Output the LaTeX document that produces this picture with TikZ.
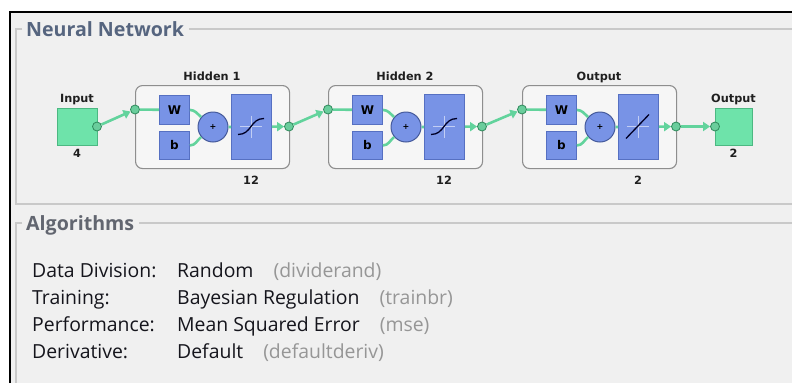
\documentclass[tikz,border=0pt]{standalone}
\usepackage{fontspec}
\setmainfont{Open Sans}
\newfontfamily\dfont{DejaVu Sans}
\usetikzlibrary{arrows.meta}
\definecolor{bgG}{HTML}{F0F0F0}
\definecolor{grpLine}{HTML}{C9C9C9}
\definecolor{lboxF}{HTML}{F6F6F6}
\definecolor{lboxD}{HTML}{8E8E8E}
\definecolor{blueF}{HTML}{7893E6}
\definecolor{blueD}{HTML}{5670C2}
\definecolor{greenF}{HTML}{6EE3AA}
\definecolor{greenD}{HTML}{4CB882}
\definecolor{wireG}{HTML}{62D39C}
\definecolor{dotF}{HTML}{6ACD9C}
\definecolor{dotD}{HTML}{2F8A5C}
\definecolor{titleNN}{HTML}{56657F}
\definecolor{titleAlg}{HTML}{626670}
\definecolor{bodyT}{HTML}{15151C}
\definecolor{grayT}{HTML}{969696}
\newcommand\nnlayer[5]{%
  \node[lbox, minimum width=154pt, minimum height=83pt, anchor=north west] (#2box) at (#1,85) {};
  \node[wbox, minimum width=30pt, minimum height=29pt, anchor=north west] (#2W) at (#1+24,95) {W};
  \node[wbox, minimum width=30pt, minimum height=28pt, anchor=north west] (#2b) at (#1+24,131) {b};
  \node[sumc] (#2sum) at (#1+78,127) {+};
  \node[wbox, minimum width=40pt, minimum height=65pt, anchor=north west] (#2tf) at (#1+96,94) {};
  \node[dot] (#2in) at (#1,109.5) {};
  \node[dot] (#2out) at (#1+154,126.5) {};
  \node[lbl, anchor=base] (#2title) at (#1+77,80) {#3};
  \node[lbl, anchor=base] (#2size) at (#1+116,184) {#4};
  \draw[wire] (#2in) -- (#2W);
  \draw[wire] (#2W.east) to[out=0,in=140] (#2sum.140);
  \draw[wire] (#2b.east) to[out=0,in=220] (#2sum.220);
  \draw[wire] (#2sum) -- (#2tf);
  \draw[wire,tip] (#2tf) -- (#2out);
  \begin{scope}[shift={(#1+116,126.5)}]
    \draw[crossl] (-11,0) -- (11,0) (0,-11) -- (0,11);
    #5
  \end{scope}
}
\begin{document}
\begin{tikzpicture}[x=1pt,y=-1pt,
  wire/.style={draw=wireG, line width=2.6pt},
  tip/.style={-{Triangle[length=7pt,width=9pt,fill=wireG]}},
  lbox/.style={draw=lboxD, fill=lboxF, line width=1.1pt, rounded corners=7pt, inner sep=0pt},
  wbox/.style={draw=blueD, fill=blueF, line width=0.9pt, inner sep=0pt, font=\dfont\bfseries\fontsize{12}{12}\selectfont, text=black},
  gsq/.style={draw=greenD, fill=greenF, line width=0.9pt, inner sep=0pt},
  sumc/.style={circle, draw=blueD!80!black, fill=blueF, line width=1pt, minimum size=30pt, inner sep=0pt, font=\dfont\bfseries\fontsize{8}{8}\selectfont},
  dot/.style={circle, draw=dotD, fill=dotF, line width=0.8pt, minimum size=9pt, inner sep=0pt},
  lbl/.style={inner sep=0pt, font=\dfont\bfseries\fontsize{11.3}{12}\selectfont, text=black!88},
  crossl/.style={draw=white!55!blueF, line width=0.7pt},
  tfline/.style={draw=black!85!blue, line width=1.3pt},
  grp/.style={draw=grpLine, line width=1.2pt},
  gtitle/.style={inner sep=0pt, anchor=base west, font=\bfseries\fontsize{19.6}{20}\selectfont},
  rowl/.style={inner sep=0pt, anchor=base west, font=\fontsize{19.4}{20}\selectfont, text=bodyT}]
\useasboundingbox (0,0) rectangle (792,383);
\fill[white] (0,0) rectangle (792,383);
\fill[bgG] (10,12) rectangle (792,383);
\draw[black, line width=1.8pt] (10,383) -- (10,12) -- (792,12);
% group boxes
\draw[grp] (22,29) -- (16,29) -- (16,204) -- (792,204);
\draw[grp] (189,29) -- (792,29);
\draw[grp] (22,223) -- (16,223) -- (16,383);
\draw[grp] (139,223) -- (792,223);
\node[gtitle, text=titleNN] (nntitle) at (26,36) {Neural Network};
\node[gtitle, text=titleAlg] (algtitle) at (26,230) {Algorithms};
% input / output squares
\node[gsq, minimum width=40pt, minimum height=37pt, anchor=north west] (insq) at (57,108) {};
\node[dot] (indot) at (97,126.5) {};
\node[lbl, anchor=base] (inlbl) at (77,102) {Input};
\node[lbl, anchor=base] (insize) at (77,157) {4};
\node[gsq, minimum width=37pt, minimum height=37pt, anchor=north west] (outsq) at (715,108) {};
\node[dot] (outdot) at (715,126.5) {};
\node[lbl, anchor=base] (outlbl) at (733.5,102) {Output};
\node[lbl, anchor=base] (outsize) at (733.5,157) {2};
% layers
\nnlayer{135}{ha}{Hidden 1}{12}{\draw[tfline] (-13,8) .. controls (1,8) and (-1,-8) .. (13,-8);}
\nnlayer{328}{hb}{Hidden 2}{12}{\draw[tfline] (-13,8) .. controls (1,8) and (-1,-8) .. (13,-8);}
\nnlayer{522}{ho}{Output}{2}{\draw[tfline] (-12,12) -- (11,-12);}
% connections between layers
\draw[wire,tip] (indot) -- (hain);
\draw[wire,tip] (haout) -- (hbin);
\draw[wire,tip] (hbout) -- (hoin);
\draw[wire,tip] (hoout) -- (outdot);
% algorithm rows
\node[rowl] (l1) at (32,277) {Data Division:};
\node[rowl] (v1) at (177,277) {Random\hspace{20pt}{\color{grayT}(dividerand)}};
\node[rowl] (l2) at (32,304) {Training:};
\node[rowl] (v2) at (177,304) {Bayesian Regulation\hspace{20pt}{\color{grayT}(trainbr)}};
\node[rowl] (l3) at (32,331) {Performance:};
\node[rowl] (v3) at (177,331) {Mean Squared Error\hspace{20pt}{\color{grayT}(mse)}};
\node[rowl] (l4) at (32,358) {Derivative:};
\node[rowl] (v4) at (177,358) {Default\hspace{20pt}{\color{grayT}(defaultderiv)}};
\end{tikzpicture}
\end{document}
